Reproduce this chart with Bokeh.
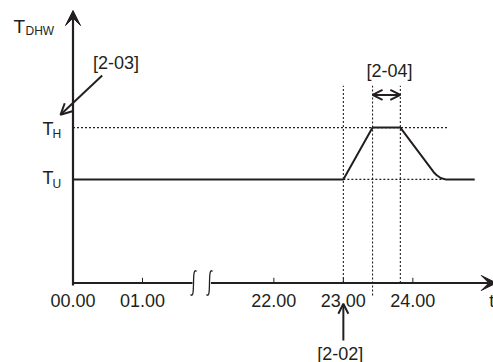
import numpy as np
from bokeh.plotting import figure
from bokeh.models import Arrow, VeeHead, OpenHead, Range1d
from bokeh.embed import file_html
from bokeh.resources import INLINE
from bokeh.core.properties import value

# ---------------- data ----------------
tick_hours = [0, 1, 22, 23, 24]
tick_labels = ["00.00", "01.00", "22.00", "23.00", "24.00"]
T_U = 2.0            # lower DHW temperature level
T_H = 3.0            # high DHW temperature level
profile_hours = [0.0, 23.0, 23.42, 23.82, 24.30, 24.34, 24.40, 24.47, 24.89]
profile_temp = [2.0, 2.0, 3.0, 3.0, 2.139, 2.085, 2.027, 2.0, 2.0]
marker_hours = [23.0, 23.42, 23.82]      # [2-02] start, heating reached, hold end
marker_bottom = [0.0, -0.24, 0.0]
marker_top = 3.81
TH_guide_end = 24.51
TU_guide = [23.0, 24.47]
y_axis_top = 5.26
x_axis_end = 6.09
break_pos = [1.734, 1.964]               # axis-break glyph positions (display units)
GAP = 19.11                              # hours removed by the break

def pos(h):
    h = np.asarray(h, dtype=float)
    return np.where(h <= 1.5, h, h - GAP)

INK = "#231f20"
FONT = value("Liberation Sans")

W, H = 493, 362
ORG = 0
PX_X, PX_Y = 69.5, 51.8
x0 = -(72.5 - ORG) / PX_X
y1 = (282.5 - ORG) / PX_Y
p = figure(width=W, height=H, output_backend="svg", toolbar_location=None,
           x_range=Range1d(x0, x0 + W / PX_X), y_range=Range1d(y1 - H / PX_Y, y1),
           min_border=0, outline_line_color=None)
p.axis.visible = False
p.grid.visible = False
p.background_fill_color = None
p.border_fill_color = None

DOT = dict(line_color=INK, line_width=1.1, line_dash="2 2")
# guides (dotted)
for h, yb in zip(marker_hours, marker_bottom):
    p.segment(x0=[float(pos(h))], y0=[yb], x1=[float(pos(h))], y1=[marker_top], **DOT)
p.segment(x0=[0.0], y0=[T_H], x1=[float(pos(TH_guide_end))], y1=[T_H], **DOT)
p.segment(x0=[float(pos(TU_guide[0]))], y0=[T_U], x1=[float(pos(TU_guide[1]))], y1=[T_U], **DOT)

# profile
p.line(pos(profile_hours), profile_temp, line_color=INK, line_width=2)

# axes
p.add_layout(Arrow(x_start=0, y_start=-0.05, x_end=0, y_end=y_axis_top,
                   line_color=INK, line_width=2.2,
                   end=VeeHead(size=15, fill_color=INK, line_color=INK)))
p.segment(x0=[0.0], y0=[0.0], x1=[break_pos[0] - 0.015], y1=[0.0], line_color=INK, line_width=2.2)
p.add_layout(Arrow(x_start=break_pos[1] + 0.02, y_start=0, x_end=x_axis_end, y_end=0,
                   line_color=INK, line_width=2.2,
                   end=VeeHead(size=15, fill_color=INK, line_color=INK)))
# ticks
tx = pos(tick_hours)
p.segment(x0=tx, y0=[0.0] * len(tx), x1=tx, y1=[0.1] * len(tx), line_color=INK, line_width=1)
p.text(x=tx, y=[0.0] * len(tx), text=tick_labels, text_font=FONT, text_font_size="18px",
       text_color=INK, text_align="center", text_baseline="middle", y_offset=17.5)
p.text(x=[5.99], y=[0.0], text=["t"], text_font=FONT, text_font_size="18px",
       text_color=INK, text_align="left", text_baseline="middle", y_offset=17.5)

# axis break marks (integral-sign shape)
dx, dy = 1 / PX_X, 1 / PX_Y
for b in break_pos:
    p.bezier(x0=[b + 3 * dx], y0=[11.5 * dy], x1=[b - 3 * dx], y1=[-11.5 * dy],
             cx0=[b - 2.5 * dx], cy0=[18 * dy], cx1=[b + 2.5 * dx], cy1=[-18 * dy],
             line_color=INK, line_width=1.3)

# y labels
def lab(x, y, t, size, xo, yo):
    p.text(x=[x], y=[y], text=[t], text_font=FONT, text_font_size=size, text_color=INK,
           text_align="left", text_baseline="alphabetic", x_offset=xo, y_offset=yo)

lab(0, y_axis_top, "T", "19px", -59.5, 16)
lab(0, y_axis_top, "DHW", "12px", -47.5, 20)
lab(0, T_H, "T", "18px", -30.5, 1.3)
lab(0, T_H, "H", "12px", -20.5, 6.3)
lab(0, T_U, "T", "18px", -30.5, -1)
lab(0, T_U, "U", "12px", -20.5, 5)

# callouts
def clab(x, y, t, xo, yo):
    p.text(x=[x], y=[y], text=[t], text_font=FONT, text_font_size="18px", text_color=INK,
           text_align="center", text_baseline="middle", x_offset=xo, y_offset=yo)

x23 = float(pos(23.0))
clab(x23, 0, "[2-02]", -3, 70.5)
p.add_layout(Arrow(x_start=x23, y_start=-1.11, x_end=x23, y_end=-0.40, line_color=INK,
                   line_width=2, end=OpenHead(size=10, line_color=INK, line_width=2)))

clab(0, T_H, "[2-03]", 43, -64.5)
p.add_layout(Arrow(x_start=0.42, y_start=4.006, x_end=-0.18, y_end=3.247, line_color=INK,
                   line_width=2, end=OpenHead(size=11, line_color=INK, line_width=2)))

xa, xb = float(pos(marker_hours[1])), float(pos(marker_hours[2]))
clab((xa + xb) / 2, T_H, "[2-04]", 3, -56.7)
p.add_layout(Arrow(x_start=xa, y_start=3.63, x_end=xb, y_end=3.63, line_color=INK,
                   line_width=2, start=OpenHead(size=10, line_color=INK, line_width=2),
                   end=OpenHead(size=10, line_color=INK, line_width=2)))

open("out.html", "w").write(file_html(p, INLINE))
